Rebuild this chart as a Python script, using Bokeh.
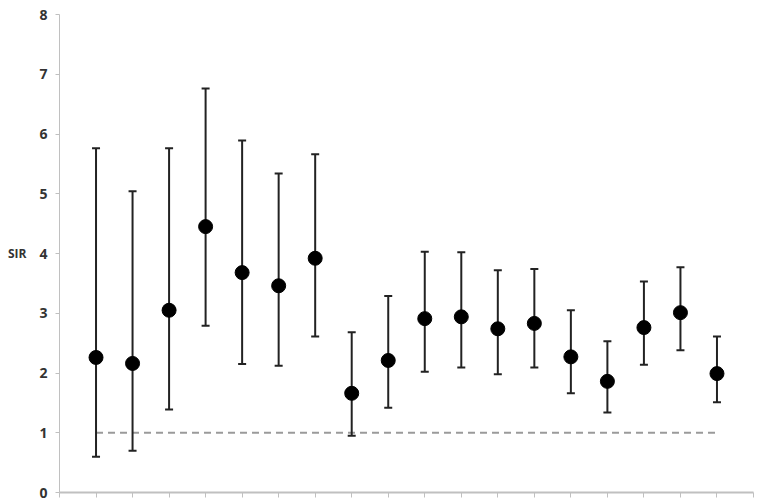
from bokeh.plotting import figure
from bokeh.models import ColumnDataSource, FixedTicker, Range1d
from bokeh.embed import file_html
from bokeh.resources import INLINE

# Data
categories = list(range(1, 19))
sir = [2.26, 2.16, 3.05, 4.45, 3.68, 3.46, 3.92, 1.66, 2.21, 2.91, 2.94, 2.74, 2.83, 2.27, 1.86, 2.76, 3.01, 1.99]
upper = [5.76, 5.04, 5.76, 6.76, 5.89, 5.34, 5.66, 2.68, 3.29, 4.03, 4.02, 3.72, 3.74, 3.05, 2.53, 3.53, 3.77, 2.61]
lower = [0.60, 0.70, 1.39, 2.79, 2.15, 2.12, 2.61, 0.95, 1.42, 2.02, 2.09, 1.98, 2.09, 1.66, 1.34, 2.14, 2.38, 1.51]
reference_value = 1.0
y_ticks = [0, 1, 2, 3, 4, 5, 6, 7, 8]

src = ColumnDataSource(dict(x=categories, sir=sir, up=upper, lo=lower))

p = figure(width=761, height=502, output_backend="svg", toolbar_location=None,
           x_range=Range1d(0, 19), y_range=Range1d(0, 8),
           min_border_left=59, min_border_right=8, min_border_top=14, min_border_bottom=10)
p.outline_line_color = None
p.xgrid.visible = False
p.ygrid.visible = False

# reference line
p.line(x=[categories[0], categories[-1]], y=[reference_value, reference_value],
       line_color="#9a9a9a", line_width=2, line_dash="7 5")

# error bars
p.segment(x0="x", y0="lo", x1="x", y1="up", source=src, line_color="#222222", line_width=2)
p.scatter(x="x", y="up", source=src, marker="dash", size=8, line_color="#222222", line_width=2)
p.scatter(x="x", y="lo", source=src, marker="dash", size=8, line_color="#222222", line_width=2)

# points
p.scatter(x="x", y="sir", source=src, marker="circle", size=14, fill_color="black", line_color="black")

# x axis
p.xaxis.ticker = FixedTicker(ticks=list(range(0, 20)))
p.xaxis.major_label_text_font_size = "0px"
p.xaxis.major_label_text_color = None
p.xaxis.axis_line_color = "#c0c0c0"
p.xaxis.axis_line_width = 2
p.xaxis.major_tick_line_color = "#c0c0c0"
p.xaxis.major_tick_out = 5
p.xaxis.major_tick_in = 0
p.xaxis.minor_tick_line_color = None

# y axis
p.yaxis.ticker = FixedTicker(ticks=y_ticks)
p.yaxis.axis_line_color = "#c0c0c0"
p.yaxis.axis_line_width = 1
p.yaxis.major_tick_line_color = "#c0c0c0"
p.yaxis.major_tick_out = 4
p.yaxis.major_tick_in = 0
p.yaxis.minor_tick_line_color = None
p.yaxis.major_label_text_font = "Open Sans"
p.yaxis.major_label_text_font_size = "14px"
p.yaxis.major_label_text_font_style = "bold"
p.yaxis.major_label_text_color = "#333333"
p.yaxis.major_label_standoff = 8
p.yaxis.axis_label = "SIR"
p.yaxis.axis_label_orientation = "horizontal"
p.yaxis.axis_label_text_font = "Open Sans"
p.yaxis.axis_label_text_font_size = "12px"
p.yaxis.axis_label_text_font_style = "bold"
p.yaxis.axis_label_text_color = "#333333"
p.yaxis.axis_label_standoff = 10

open("out.html", "w").write(file_html(p, INLINE))
